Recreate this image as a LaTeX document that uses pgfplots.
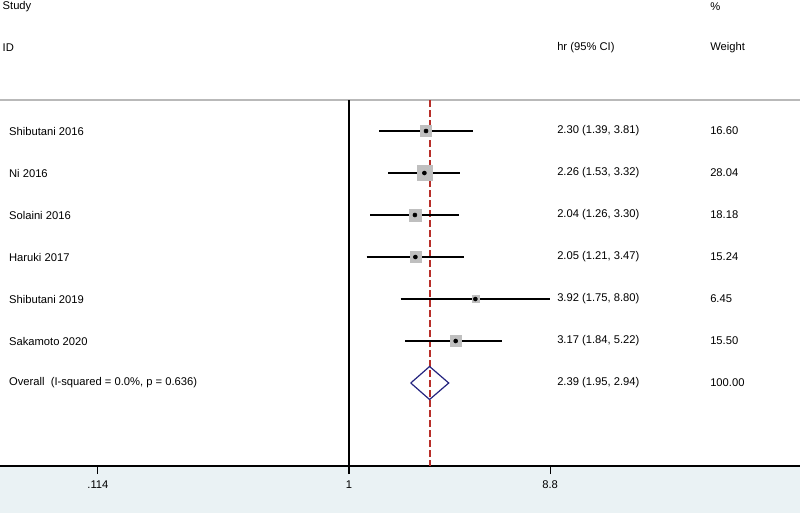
\documentclass[border=0pt]{standalone}
\usepackage{pgfplots}
\pgfplotsset{compat=1.18}
\usepackage{pgfplotstable}
\usepackage{fontspec}
\setmainfont{Liberation Sans}
\definecolor{band}{HTML}{EAF2F4}
\definecolor{navy}{HTML}{23237F}
\definecolor{boxgray}{HTML}{BFBFBF}
\definecolor{dashred}{rgb}{0.72,0.18,0.16}

\pgfplotstableread{
hr   lo   hi   w     row
2.30 1.39 3.81 16.60 1
2.26 1.53 3.32 28.04 2
2.04 1.26 3.30 18.18 3
2.05 1.21 3.47 15.24 4
3.92 1.75 8.80 6.45  5
3.17 1.84 5.22 15.50 6
}\studies

\pgfplotstableread{
x    y
1.39 1
3.81 1
nan  nan
1.53 2
3.32 2
nan  nan
1.26 3
3.30 3
nan  nan
1.21 4
3.47 4
nan  nan
1.75 5
8.80 5
nan  nan
1.84 6
5.22 6
}\cis

\begin{document}
\fontsize{8.4}{10}\selectfont
\begin{tikzpicture}[lab/.style={anchor=west, inner xsep=0pt, inner ysep=1pt}]
\fill[band] (0,-35.25pt) rectangle (600pt,0);
\begin{axis}[
  scale only axis,
  width=600pt, height=349.5pt,
  xmode=log,
  xmin=0.02299, xmax=131.07,
  ymin=-2.119, ymax=8.976,
  y dir=reverse,
  axis x line*=bottom,
  axis y line=none,
  axis line style={black, line width=0.9pt},
  xtick={0.0663,1,8.8},
  xticklabels={.114,1,8.8},
  tick align=outside,
  major tick length=6pt,
  minor tick num=0,
  tick style={black, line width=0.8pt},
  xticklabel style={font=\fontsize{8.4}{10}\selectfont, yshift=-2pt},
  /pgf/number format/assume math mode=true,
  clip=false,
  unbounded coords=jump,
]
% header separator
\addplot[gray!55, line width=1.3pt] coordinates {(0.02299,0.262) (131.07,0.262)};
% null line
\addplot[black, line width=0.9pt] coordinates {(1,0.262) (1,8.976)};
% overall effect line
\addplot[dashred, solid, line width=1.5pt, dash pattern=on 5pt off 2.5pt] coordinates {(2.39,0.262) (2.39,8.976)};
% weight boxes
\addplot[scatter, only marks, mark=square*,
  scatter/use mapped color={draw=boxgray, fill=boxgray},
  visualization depends on={1.05*sqrt(\thisrow{w}) \as \msz},
  scatter/@pre marker code/.append style={/tikz/mark size=\msz pt}]
  table[x=hr, y=row] {\studies};
% CI lines
\addplot[black, line width=1.2pt] table[x=x, y=y] {\cis};
% point estimates
\addplot[only marks, mark=*, mark size=1.5pt, black] table[x=hr, y=row] {\studies};
% overall diamond
\addplot[navy, line width=0.9pt] coordinates {(1.95,7) (2.39,6.607) (2.94,7) (2.39,7.393) (1.95,7)};

% text columns
\node[lab] at (axis cs:0.0236,-1.952) {Study};
\node[lab] at (axis cs:0.0236,-0.976) {ID};
\node[lab] at (axis cs:9.475,-0.976) {hr (95\% CI)};
\node[lab] at (axis cs:49.53,-1.952) {\%};
\node[lab] at (axis cs:49.53,-0.976) {Weight};

\node[lab] at (axis cs:0.0253,1) {Shibutani 2016};
\node[lab] at (axis cs:0.0253,2) {Ni 2016};
\node[lab] at (axis cs:0.0253,3) {Solaini 2016};
\node[lab] at (axis cs:0.0253,4) {Haruki 2017};
\node[lab] at (axis cs:0.0253,5) {Shibutani 2019};
\node[lab] at (axis cs:0.0253,6) {Sakamoto 2020};
\node[lab] at (axis cs:0.0253,7) {Overall\ \ (I-squared = 0.0\%, p = 0.636)};

\node[lab] at (axis cs:9.475,1) {2.30 (1.39, 3.81)};
\node[lab] at (axis cs:9.475,2) {2.26 (1.53, 3.32)};
\node[lab] at (axis cs:9.475,3) {2.04 (1.26, 3.30)};
\node[lab] at (axis cs:9.475,4) {2.05 (1.21, 3.47)};
\node[lab] at (axis cs:9.475,5) {3.92 (1.75, 8.80)};
\node[lab] at (axis cs:9.475,6) {3.17 (1.84, 5.22)};
\node[lab] at (axis cs:9.475,7) {2.39 (1.95, 2.94)};

\node[lab] at (axis cs:49.53,1) {16.60};
\node[lab] at (axis cs:49.53,2) {28.04};
\node[lab] at (axis cs:49.53,3) {18.18};
\node[lab] at (axis cs:49.53,4) {15.24};
\node[lab] at (axis cs:49.53,5) {6.45};
\node[lab] at (axis cs:49.53,6) {15.50};
\node[lab] at (axis cs:49.53,7) {100.00};
\end{axis}
\pgfresetboundingbox
\path[use as bounding box] (0,-35.25pt) rectangle (600pt,349.5pt);
\end{tikzpicture}
\end{document}
